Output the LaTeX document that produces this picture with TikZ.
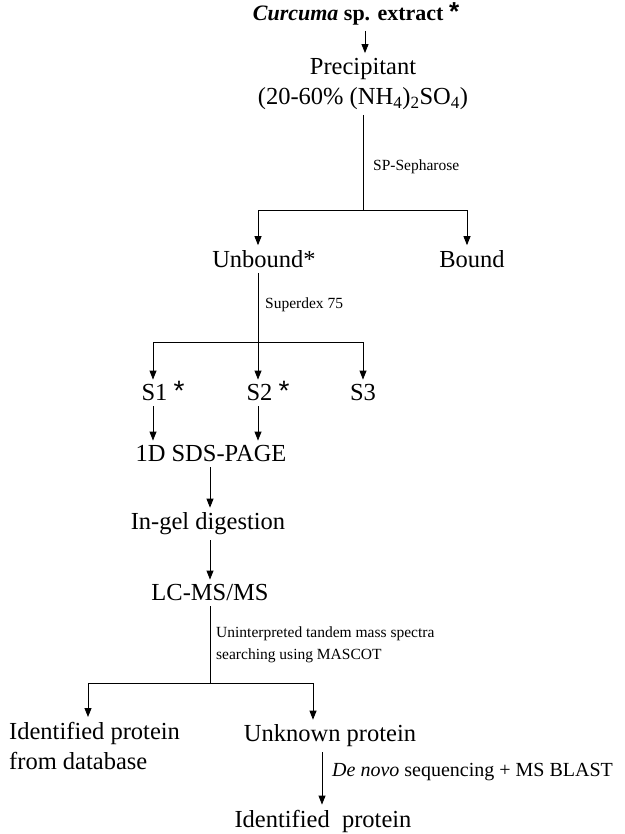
\documentclass[tikz,border=0pt]{standalone}
\usepackage{fontspec}
\setmainfont{Liberation Serif}
\newfontfamily\astfont{Liberation Sans}
\usetikzlibrary{arrows.meta}
\newcommand{\bigast}[1]{\smash{\astfont\fontsize{#1}{#1}\selectfont*}}
\begin{document}
\begin{tikzpicture}[x=1pt,y=-1pt,
  txt/.style={inner xsep=1pt,inner ysep=5pt,font=\fontsize{24.5}{30}\selectfont,align=center},
  lbl/.style={inner sep=0pt,anchor=west,font=\fontsize{15.5}{22}\selectfont,align=left},
  ln/.style={line width=0.9pt},
  arr/.style={ln,-{Triangle[length=9pt,width=7pt]}}]
\useasboundingbox (0,0) rectangle (624,834);
% columns for connectors
\coordinate (x88) at (88,0);
\coordinate (x153) at (153,0);
\coordinate (x210) at (210,0);
\coordinate (x258) at (258,0);
\coordinate (x313) at (313,0);
\coordinate (x322) at (322,0);
\coordinate (x363) at (363,0);
\coordinate (x365) at (365,0);
\coordinate (x467) at (467,0);
% nodes
\node[txt,font=\fontsize{22}{26}\selectfont\bfseries] (title) at (356,16) {\textit{Curcuma} sp. extract \bigast{26}};
\node[txt] (prec) at (363,84) {Precipitant\\(20-60\% (NH\textsubscript{4})\textsubscript{2}SO\textsubscript{4})};
\node[txt] (unbound) at (264,259) {Unbound*};
\node[txt] (bound) at (472,259) {Bound};
\node[txt] (s1) at (163,393) {S1 \bigast{28}};
\node[txt] (s2) at (268,393) {S2 \bigast{28}};
\node[txt] (s3) at (363,393) {S3};
\node[txt] (sds) at (211,454) {1D SDS-PAGE};
\node[txt] (ingel) at (208,524) {In-gel digestion};
\node[txt] (lcms) at (210,593) {LC-MS/MS};
\node[txt,align=left,anchor=north west] (idp) at (8,717) {Identified protein\\from database};
\node[txt] (unk) at (330,736) {Unknown protein};
\node[txt] (final) at (323,821) {Identified~~protein};
% labels
\node[lbl] (l1) at (373,167) {SP-Sepharose};
\node[lbl] (l2) at (265,305) {Superdex 75};
\node[lbl] (l3) at (216,645) {Uninterpreted tandem mass spectra\\searching using MASCOT};
\node[lbl,font=\fontsize{20}{22}\selectfont] (l4) at (332,772) {\textit{De novo} sequencing + MS BLAST};
% junctions
\coordinate (j1) at (363,210);
\coordinate (j2) at (258,342);
\coordinate (j3) at (210,683);
% connectors
\draw[arr] (title.south -| x365) -- (prec.north -| x365);
\draw[ln] (prec.south -| x363) -- (j1);
\draw[arr] (j1) -| (unbound.north -| x258);
\draw[arr] (j1) -| (bound.north -| x467);
\draw[ln] (unbound.south -| x258) -- (j2);
\draw[arr] (j2) -| (s1.north -| x153);
\draw[arr] (j2) -- (s2.north -| x258);
\draw[arr] (j2) -| (s3.north -| x363);
\draw[arr] (s1.south -| x153) -- (sds.north -| x153);
\draw[arr] (s2.south -| x258) -- (sds.north -| x258);
\draw[arr] (sds.south -| x210) -- (ingel.north -| x210);
\draw[arr] (ingel.south -| x210) -- (lcms.north -| x210);
\draw[ln] (lcms.south -| x210) -- (j3);
\draw[arr] (j3) -| (idp.north -| x88);
\draw[arr] (j3) -| (unk.north -| x313);
\draw[arr] (unk.south -| x322) -- (final.north -| x322);
\end{tikzpicture}
\end{document}
